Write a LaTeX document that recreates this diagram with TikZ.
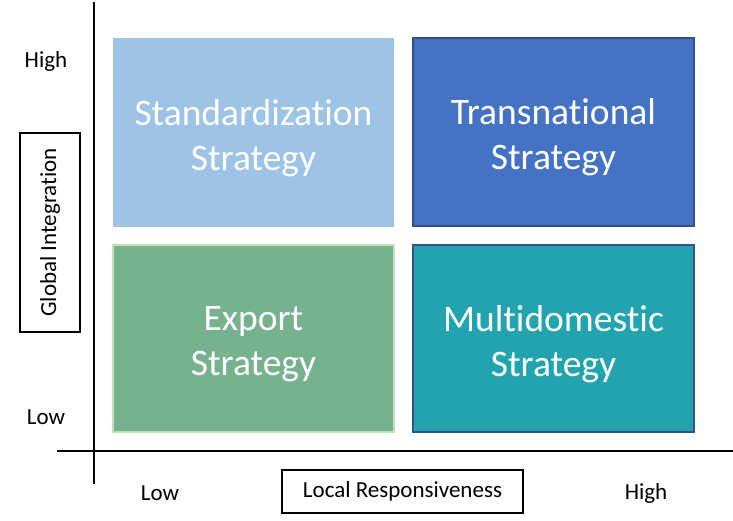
\documentclass[tikz,border=0pt]{standalone}
\usepackage{fontspec}
\setmainfont{Carlito}[Ligatures={NoCommon}]
\definecolor{stdblue}{HTML}{9DC3E6}
\definecolor{transblue}{HTML}{4472C4}
\definecolor{darkedge}{HTML}{2F528F}
\definecolor{exportgreen}{HTML}{77B28F}
\definecolor{paleedge}{HTML}{C5E0B4}
\definecolor{multiteal}{HTML}{21A4AE}
\begin{document}
\begin{tikzpicture}[x=1pt,y=-1pt,
  quad/.style={rectangle, inner sep=0pt},
  quadtext/.style={inner sep=0pt, text=white, align=center, yshift=-5.5pt,
    font=\fontsize{37.5}{45}\selectfont},
  axislabel/.style={font=\fontsize{23}{27}\selectfont, inner sep=0pt},
  namebox/.style={draw=black, line width=1.6pt, inner sep=0pt,
    font=\fontsize{23}{27}\selectfont},
  axisline/.style={line width=1.8pt, black}]
\useasboundingbox (0,0) rectangle (733,520);

% strategy quadrants
\node[quad, fill=stdblue, minimum width=281, minimum height=189]
  (std) at (253.5,132.5) {};
\node[quad, fill=transblue, draw=darkedge, line width=1.5pt,
  minimum width=281, minimum height=188] (trans) at (553.5,132) {};
\node[quad, fill=exportgreen, draw=paleedge, line width=1.8pt,
  minimum width=281, minimum height=187] (export) at (253.5,338.5) {};
\node[quad, fill=multiteal, draw=darkedge, line width=1.5pt,
  minimum width=281, minimum height=187] (multi) at (553.5,338.5) {};

\node[quadtext] (stdtext) at (std.center) {Standardization\\Strategy};
\node[quadtext] (transtext) at (trans.center) {Transnational\\Strategy};
\node[quadtext] (exporttext) at (export.center) {Export\\Strategy};
\node[quadtext] (multitext) at (multi.center) {Multidomestic\\Strategy};

% axes
\coordinate (vtop) at (94,2);
\coordinate (vbot) at (94,484);
\coordinate (hleft) at (57,451);
\coordinate (hright) at (733,451);
\draw[axisline] (vtop) -- (vbot);
\draw[axisline] (hleft) -- (hright);

% axis levels
\node[axislabel] (yhigh) at (46,61) {High};
\node[axislabel] (ylow) at (46,417) {Low};
\node[axislabel] (xlow) at (160,493) {Low};
\node[axislabel] (xhigh) at (646,493) {High};

% axis titles
\node[namebox, minimum width=241, minimum height=43]
  (xtitle) at (402.5,491.5) {Local Responsiveness};
\node[namebox, rotate=90, minimum width=199, minimum height=60]
  (ytitle) at (50,232.5) {Global Integration};
\end{tikzpicture}
\end{document}
